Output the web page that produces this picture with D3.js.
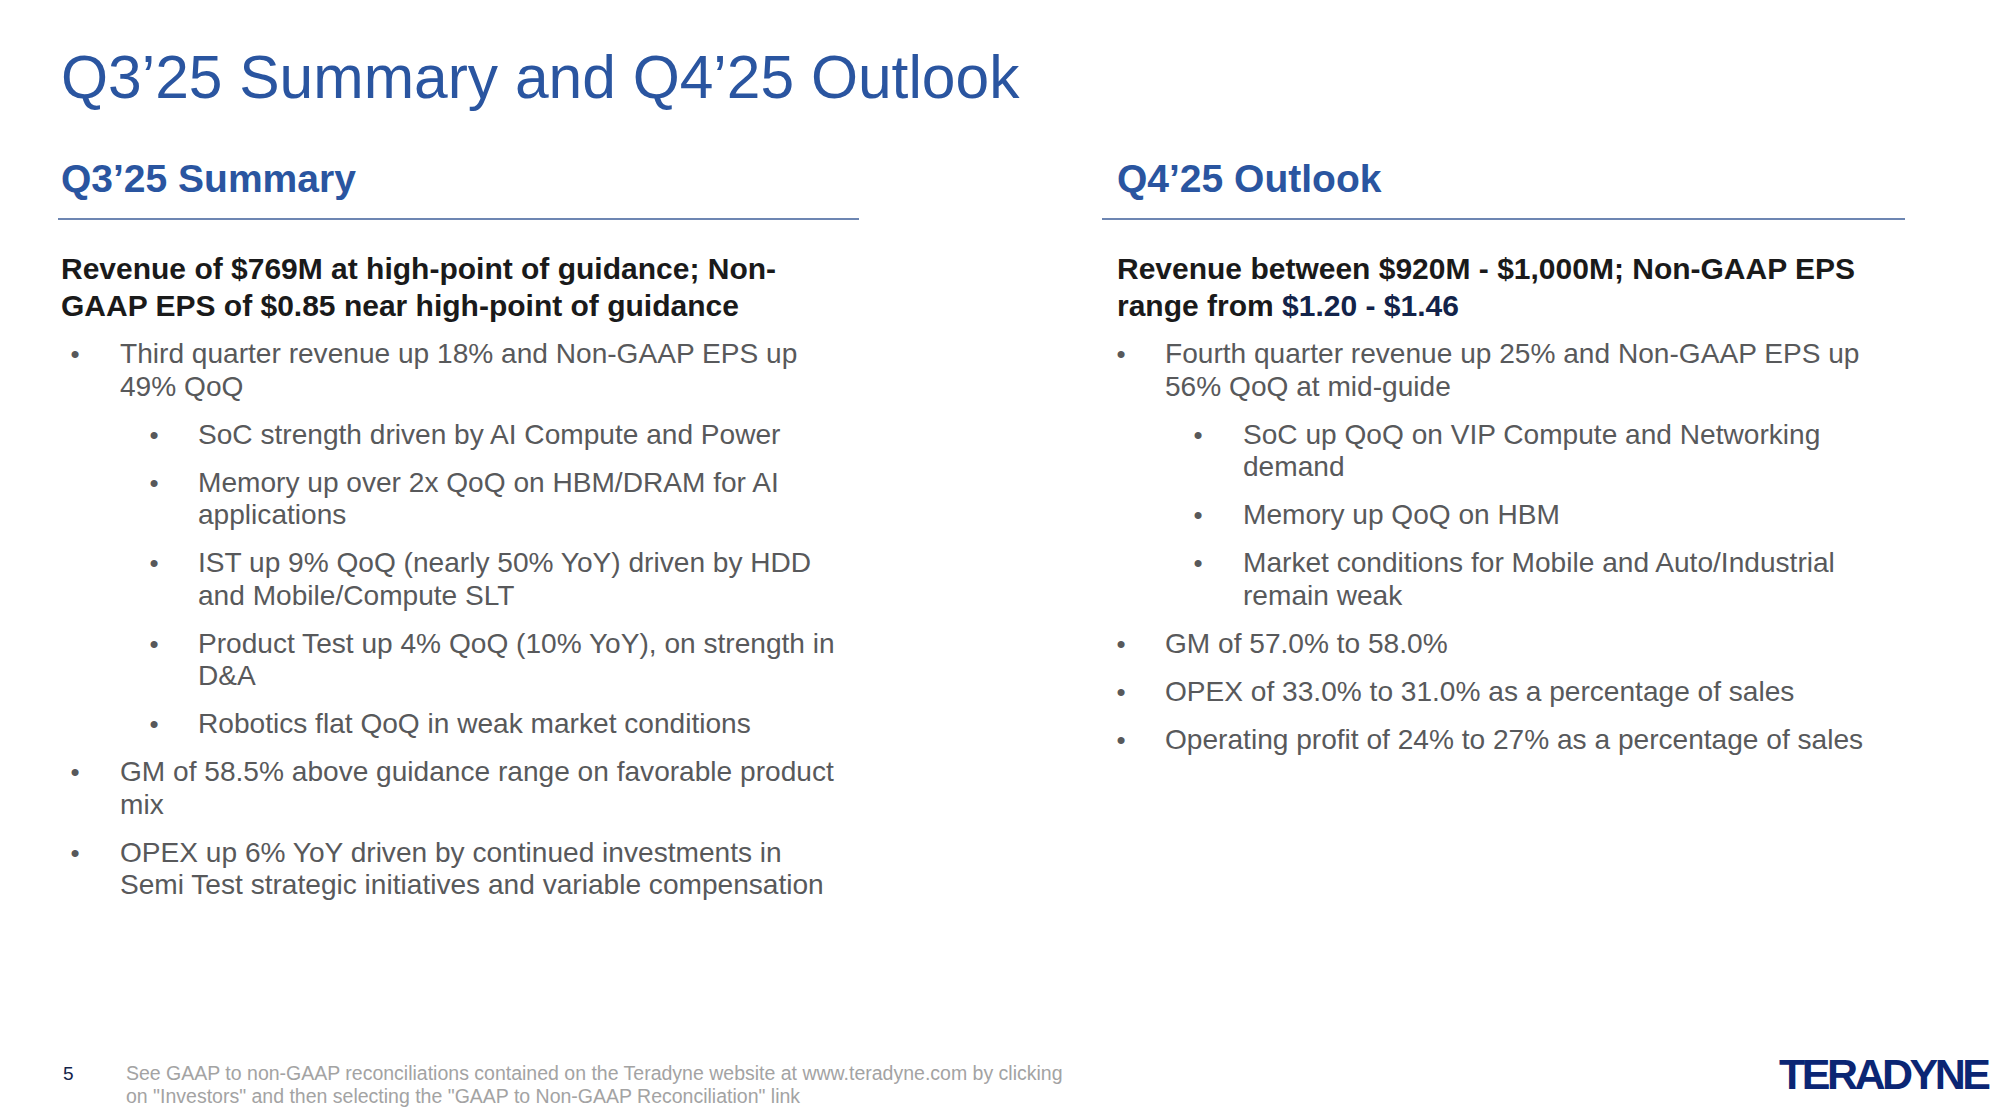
<!DOCTYPE html>
<html><head><meta charset="utf-8">
<script src="https://cdn.jsdelivr.net/npm/d3@7"></script>
<style>html,body{margin:0;padding:0;background:#fff;} svg{display:block;}</style>
</head><body>
<svg id="slide" width="2008" height="1120"></svg>
<script>
// ---------- content ----------
const pageTitle = "Q3’25 Summary and Q4’25 Outlook";
const columnTitles = ["Q3’25 Summary", "Q4’25 Outlook"];
const headlineLeft = [
  [{t: "Revenue of $769M at high-point of guidance; Non-"}],
  [{t: "GAAP EPS of $0.85 near high-point of guidance"}]
];
const headlineRight = [
  [{t: "Revenue between $920M - $1,000M; Non-GAAP EPS"}],
  [{t: "range from "}, {t: "$1.20 - $1.46", hi: true}]
];
const bulletsLeft = [
  {level: 1, lines: ["Third quarter revenue up 18% and Non-GAAP EPS up", "49% QoQ"]},
  {level: 2, lines: ["SoC strength driven by AI Compute and Power"]},
  {level: 2, lines: ["Memory up over 2x QoQ on HBM/DRAM for AI", "applications"]},
  {level: 2, lines: ["IST up 9% QoQ (nearly 50% YoY) driven by HDD", "and Mobile/Compute SLT"]},
  {level: 2, lines: ["Product Test up 4% QoQ (10% YoY), on strength in", "D&A"]},
  {level: 2, lines: ["Robotics flat QoQ in weak market conditions"]},
  {level: 1, lines: ["GM of 58.5% above guidance range on favorable product", "mix"]},
  {level: 1, lines: ["OPEX up 6% YoY driven by continued investments in", "Semi Test strategic initiatives and variable compensation"]}
];
const bulletsRight = [
  {level: 1, lines: ["Fourth quarter revenue up 25% and Non-GAAP EPS up", "56% QoQ at mid-guide"]},
  {level: 2, lines: ["SoC up QoQ on VIP Compute and Networking", "demand"]},
  {level: 2, lines: ["Memory up QoQ on HBM"]},
  {level: 2, lines: ["Market conditions for Mobile and Auto/Industrial", "remain weak"]},
  {level: 1, lines: ["GM of 57.0% to 58.0%"]},
  {level: 1, lines: ["OPEX of 33.0% to 31.0% as a percentage of sales"]},
  {level: 1, lines: ["Operating profit of 24% to 27% as a percentage of sales"]}
];
const footnoteLines = [
  "See GAAP to non-GAAP reconciliations contained on the Teradyne website at www.teradyne.com by clicking",
  "on \"Investors\" and then selecting the \"GAAP to Non-GAAP Reconciliation\" link"
];
const pageNumber = "5";
const logoText = "TERADYNE";

// ---------- styles ----------
const FONT = "'Liberation Sans', Arial, Helvetica, sans-serif";
const BLUE = "#2a55a0";
const BODY = "#58595b";
const DARK = "#1a1a1a";
const NAVY = "#13234a";
const LOGO = "#0b2674";

const svg = d3.select("#slide");
svg.append("rect").attr("width", 2008).attr("height", 1120).attr("fill", "#ffffff");

// title
svg.append("text").attr("x", 61).attr("y", 98)
  .attr("font-family", FONT).attr("font-size", 60.5).attr("fill", BLUE)
  .text(pageTitle);

// columns
const columns = [
  {x0: 61, ruleX: [58, 859], dot1: 75, text1: 120, dot2: 154, text2: 198, headline: headlineLeft, bullets: bulletsLeft},
  {x0: 1117, ruleX: [1102, 1905], dot1: 1121, text1: 1165, dot2: 1198, text2: 1243, headline: headlineRight, bullets: bulletsRight}
];

// vertical layout scale: slot units -> baseline pixels
const lineStep = 32.5, paraGap = 15.5;
const yBody = d3.scaleLinear().domain([0, 1]).range([363, 363 + lineStep]);
const yHead = d3.scaleLinear().domain([0, 1]).range([279, 316]);

columns.forEach((col, ci) => {
  const g = svg.append("g");
  g.append("text").attr("x", col.x0).attr("y", 192)
    .attr("font-family", FONT).attr("font-size", 39).attr("font-weight", "bold").attr("fill", BLUE)
    .text(columnTitles[ci]);
  g.append("line").attr("x1", col.ruleX[0]).attr("x2", col.ruleX[1]).attr("y1", 219).attr("y2", 219)
    .attr("stroke", "#3d5e99").attr("stroke-width", 1.5);

  // headline
  g.selectAll("text.head").data(col.headline).join("text").attr("class", "head")
    .attr("x", col.x0).attr("y", (d, i) => yHead(i))
    .attr("font-family", FONT).attr("font-size", 30).attr("font-weight", "bold").attr("fill", DARK)
    .selectAll("tspan").data(d => d).join("tspan")
    .attr("fill", d => d.hi ? NAVY : DARK).text(d => d.t);

  // bullets layout
  const rows = [];
  let slot = 0;
  col.bullets.forEach((b, bi) => {
    if (bi > 0) slot += paraGap / lineStep;
    b.lines.forEach((ln, li) => {
      rows.push({level: b.level, text: ln, first: li === 0, slot: slot});
      slot += 1;
    });
  });
  g.selectAll("text.dot").data(rows.filter(r => r.first)).join("text").attr("class", "dot")
    .attr("x", d => d.level === 1 ? col.dot1 : col.dot2).attr("y", d => yBody(d.slot))
    .attr("text-anchor", "middle")
    .attr("font-family", FONT).attr("font-size", 26).attr("fill", BODY).text("•");
  g.selectAll("text.line").data(rows).join("text").attr("class", "line")
    .attr("x", d => d.level === 1 ? col.text1 : col.text2).attr("y", d => yBody(d.slot))
    .attr("font-family", FONT).attr("font-size", 28.1).attr("fill", BODY).text(d => d.text);
});

// footer
svg.append("text").attr("x", 63).attr("y", 1080)
  .attr("font-family", FONT).attr("font-size", 19).attr("fill", NAVY).text(pageNumber);
svg.selectAll("text.foot").data(footnoteLines).join("text").attr("class", "foot")
  .attr("x", 126).attr("y", (d, i) => 1080 + i * 23)
  .attr("font-family", FONT).attr("font-size", 19.5).attr("fill", "#a3a3a3").text(d => d);

// logo
svg.append("text").attr("x", 1779).attr("y", 1089)
  .attr("font-family", FONT).attr("font-size", 43).attr("font-weight", "bold").attr("fill", LOGO)
  .attr("letter-spacing", -3.5)
  .text(logoText);
</script>
</body></html>
